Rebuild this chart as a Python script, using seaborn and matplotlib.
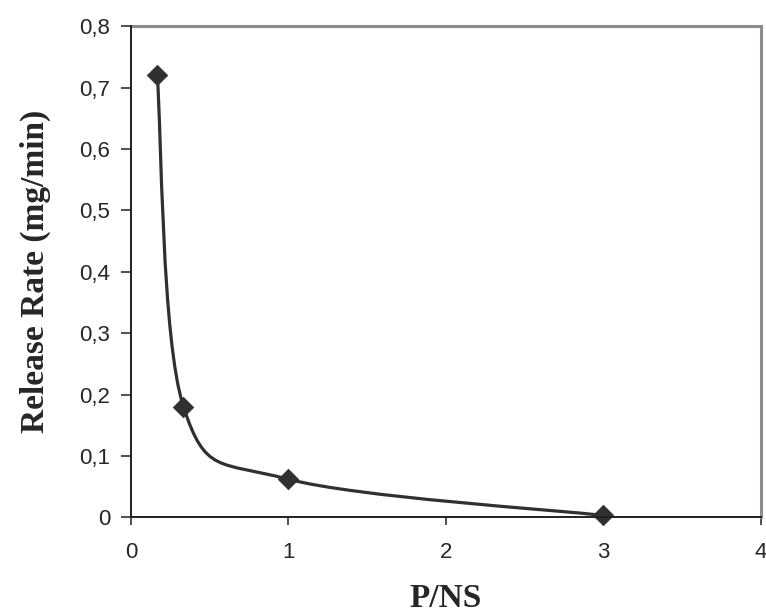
import numpy as np
import pandas as pd
import matplotlib
matplotlib.use("Agg")
import matplotlib.pyplot as plt
from matplotlib.path import Path
from matplotlib.patches import PathPatch
from matplotlib.ticker import FuncFormatter
import seaborn as sns

# data
ratio = [1 / 6, 1 / 3, 1.0, 3.0]
release_rate = [0.72, 0.18, 0.062, 0.003]

x_ticks = [0, 1, 2, 3, 4]
y_ticks = [0, 0.1, 0.2, 0.3, 0.4, 0.5, 0.6, 0.7, 0.8]

LINE_COLOR = "#303030"


def smooth_path(xs, ys):
    """Excel-like smoothed line: Catmull-Rom segments as cubic Bezier."""
    pts = np.column_stack([xs, ys])
    n = len(pts)
    verts = [pts[0]]
    codes = [Path.MOVETO]
    for i in range(n - 1):
        p_prev = pts[i - 1] if i > 0 else pts[i]
        p0, p1 = pts[i], pts[i + 1]
        p_next = pts[i + 2] if i + 2 < n else pts[i + 1]
        c1 = p0 + (p1 - p_prev) / 6.0
        c2 = p1 - (p_next - p0) / 6.0
        verts += [c1, c2, p1]
        codes += [Path.CURVE4] * 3
    return Path(verts, codes)


def main():
    sns.set_style("white")
    df = pd.DataFrame({"P/NS": ratio, "rate": release_rate})

    fig = plt.figure(figsize=(7.66, 6.10), dpi=100)
    ax = fig.add_axes([0.171, 0.152, 0.822, 0.805])

    ax.add_patch(PathPatch(smooth_path(df["P/NS"], df["rate"]),
                           facecolor="none", edgecolor=LINE_COLOR,
                           lw=2.3, zorder=2))
    sns.scatterplot(data=df, x="P/NS", y="rate", ax=ax, marker="D",
                    s=110, color=LINE_COLOR, edgecolor=LINE_COLOR,
                    linewidth=0.5, zorder=3, clip_on=False)

    ax.set_xlim(0, 4)
    ax.set_ylim(0, 0.8)
    ax.set_xticks(x_ticks)
    ax.set_yticks(y_ticks)
    comma = FuncFormatter(lambda v, _: f"{v:g}".replace(".", ","))
    ax.yaxis.set_major_formatter(comma)
    ax.xaxis.set_major_formatter(FuncFormatter(lambda v, _: f"{v:g}"))

    for lab in ax.get_xticklabels() + ax.get_yticklabels():
        lab.set_fontfamily("Liberation Sans")
        lab.set_fontsize(16)
    ax.tick_params(axis="x", direction="out", length=6, width=1.1,
                   color="#202020", pad=12, bottom=True)
    ax.tick_params(axis="y", direction="out", length=7, width=1.1,
                   color="#202020", pad=8, left=True)

    label_font = {"family": "Liberation Serif", "size": 24, "weight": "bold"}
    ax.set_xlabel("P/NS", fontdict=label_font, labelpad=14)
    ax.set_ylabel("Release Rate (mg/min)", fontdict=label_font, labelpad=20)

    for side in ["top", "right"]:
        ax.spines[side].set_color("#8c8c8c")
        ax.spines[side].set_linewidth(2.2)
    for side in ["left", "bottom"]:
        ax.spines[side].set_color("#202020")
        ax.spines[side].set_linewidth(1.4)
        ax.spines[side].set_zorder(4)

    fig.savefig("out.png", dpi=100)


if __name__ == "__main__":
    main()
